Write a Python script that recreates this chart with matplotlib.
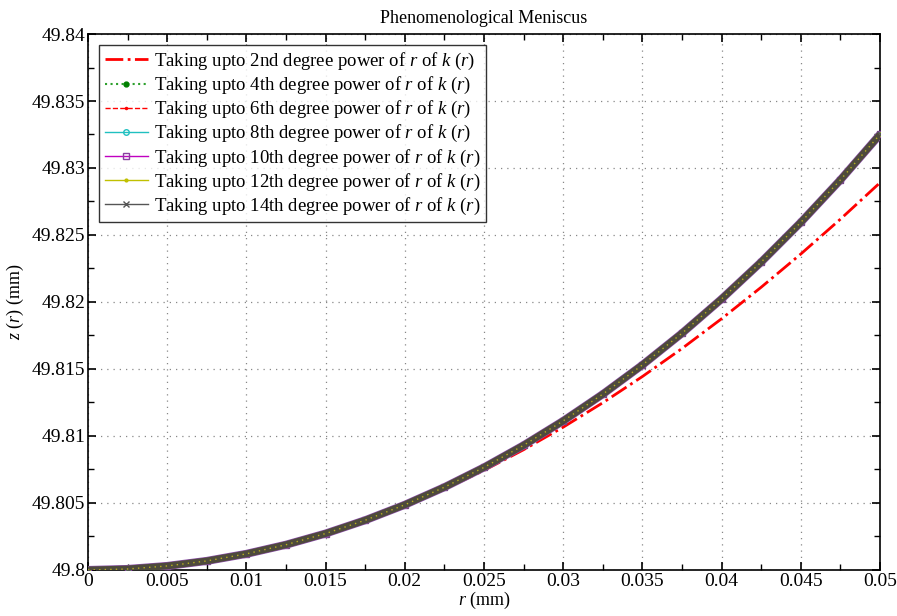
import numpy as np
import matplotlib
matplotlib.use("Agg")
import matplotlib.pyplot as plt
from matplotlib.ticker import MultipleLocator

plt.rcParams['font.family'] = ['Liberation Serif', 'DejaVu Serif']
plt.rcParams['mathtext.fontset'] = 'custom'
plt.rcParams['mathtext.rm'] = 'Liberation Serif'
plt.rcParams['mathtext.it'] = 'Liberation Serif:italic'

# radius (mm)
r = [0, 0.0025, 0.005, 0.0075, 0.01, 0.0125, 0.015, 0.0175, 0.02, 0.0225, 0.025,
     0.0275, 0.03, 0.0325, 0.035, 0.0375, 0.04, 0.0425, 0.045, 0.0475, 0.05]

# meniscus height above the base level, 2nd degree truncation of k(r)
z_2nd = [0, 0.000075, 0.0003, 0.000674, 0.001198, 0.001871, 0.002691, 0.003659,
         0.004772, 0.00603, 0.007431, 0.008974, 0.010657, 0.012479, 0.014436,
         0.016527, 0.01875, 0.021101, 0.023578, 0.026179, 0.0289]

# 4th..14th degree truncations all fall on the same curve
z_high = [0, 0.000075, 0.0003, 0.000676, 0.001204, 0.001885, 0.00272, 0.003713,
          0.004864, 0.006178, 0.007656, 0.009304, 0.011124, 0.013121, 0.0153,
          0.017666, 0.020224, 0.02298, 0.02594, 0.02911, 0.0325]

z0 = 49.8
degrees = ['2nd', '4th', '6th', '8th', '10th', '12th', '14th']

x_ticks = [0, 0.005, 0.01, 0.015, 0.02, 0.025, 0.03, 0.035, 0.04, 0.045, 0.05]
x_labels = ['0', '0.005', '0.01', '0.015', '0.02', '0.025', '0.03',
            '0.035', '0.04', '0.045', '0.05']
y_ticks = [49.8, 49.805, 49.81, 49.815, 49.82, 49.825, 49.83, 49.835, 49.84]
y_labels = ['49.8', '49.805', '49.81', '49.815', '49.82', '49.825',
            '49.83', '49.835', '49.84']

styles = [
    dict(color='red', ls='-.', lw=2.0, marker=None),
    dict(color='#2ca02c', ls=':', lw=1.5, marker='o', ms=3.5, mfc='green', mec='green'),
    dict(color='red', ls='--', lw=1.0, marker='.', ms=3),
    dict(color='#20c0c0', ls='-', lw=1.0, marker='o', ms=4, mfc='none'),
    dict(color='#c000c0', ls='-', lw=1.0, marker='s', ms=4, mfc='none', mec='#8a3fa0'),
    dict(color='#c0c000', ls='-', lw=1.0, marker='.', ms=4),
    dict(color='#555555', ls='-', lw=1.0, marker='x', ms=4),
]

rr = np.array(r)
fig = plt.figure(figsize=(8.97, 6.16), dpi=100)
ax = fig.add_axes([0.0981, 0.0747, 0.8829, 0.8701])

for i, (deg, st) in enumerate(zip(degrees, styles)):
    zz = z0 + np.array(z_2nd if i == 0 else z_high)
    label = 'Taking upto ' + deg + ' degree power of $r$ of $k$ ($r$)'
    ax.plot(rr, zz, label=label, zorder=3 + i, **st)

# dense overlapping markers of the higher orders give a thick band
zb = z0 + np.array(z_high)
ax.plot(rr, zb, color='#8a4fa8', lw=5.8, zorder=11, solid_capstyle='butt')
ax.plot(rr, zb, color='#4e4a3c', lw=4.9, zorder=12, solid_capstyle='butt')
ax.plot(rr, zb, color='#b8b020', lw=1.0, ls=(0, (1, 3)), zorder=13)

ax.set_xlim(0, 0.05)
ax.set_ylim(49.8, 49.84)
ax.set_xticks(x_ticks, x_labels)
ax.set_yticks(y_ticks, y_labels)
ax.xaxis.set_minor_locator(MultipleLocator(0.0025))
ax.yaxis.set_minor_locator(MultipleLocator(0.0025))
ax.tick_params(which='both', direction='in', top=True, right=True, labelsize=14, pad=2)
ax.tick_params(which='major', length=6, width=1.2)
ax.tick_params(which='minor', length=4, width=1.0)
for s in ax.spines.values():
    s.set_linewidth(1.2)
ax.grid(True, which='major', ls=(0, (1, 4)), color='#888888', lw=0.9)

ax.set_xlabel('$r$ (mm)', fontsize=13, labelpad=0)
ax.set_ylabel('$z$ ($r$) (mm)', fontsize=13, labelpad=4)
ax.set_title('Phenomenological Meniscus', fontsize=13, pad=8)

leg = ax.legend(loc='upper left', fontsize=13.5, frameon=True, fancybox=False,
                edgecolor='black', handlelength=2.3, handletextpad=0.3,
                labelspacing=0.16, borderpad=0.3, borderaxespad=0.6)
leg.get_frame().set_linewidth(1.0)
leg.set_zorder(20)

fig.savefig('out.png', dpi=100)
